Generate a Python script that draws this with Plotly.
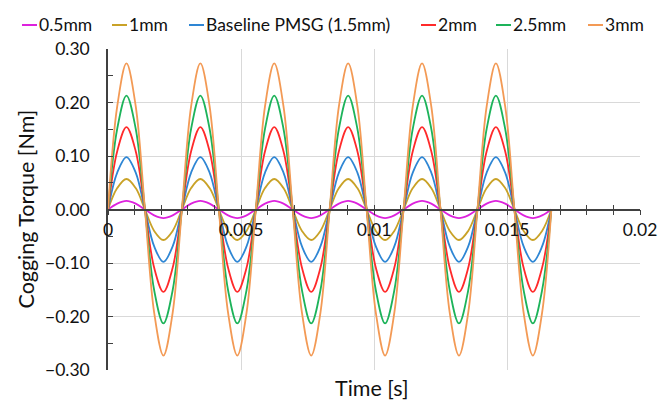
import plotly.graph_objects as go

time_s = [0, 0.000347, 0.000694, 0.001042, 0.001389, 0.001736, 0.002083, 0.002431,
          0.002778, 0.003125, 0.003472, 0.003819, 0.004167, 0.004514, 0.004861, 0.005208,
          0.005556, 0.005903, 0.006250, 0.006597, 0.006944, 0.007292, 0.007639, 0.007986,
          0.008333, 0.008681, 0.009028, 0.009375, 0.009722, 0.010069, 0.010417, 0.010764,
          0.011111, 0.011458, 0.011806, 0.012153, 0.012500, 0.012847, 0.013194, 0.013542,
          0.013889, 0.014236, 0.014583, 0.014931, 0.015278, 0.015625, 0.015972, 0.016319,
          0.016667]

t_05 = [0, 0.011, 0.016, 0.011, 0, -0.011, -0.016, -0.011] * 6 + [0]
t_10 = [0, 0.040, 0.057, 0.040, 0, -0.040, -0.057, -0.040] * 6 + [0]
t_15 = [0, 0.069, 0.098, 0.069, 0, -0.069, -0.098, -0.069] * 6 + [0]
t_20 = [0, 0.109, 0.154, 0.109, 0, -0.109, -0.154, -0.109] * 6 + [0]
t_25 = [0, 0.151, 0.213, 0.151, 0, -0.151, -0.213, -0.151] * 6 + [0]
t_30 = [0, 0.193, 0.273, 0.193, 0, -0.193, -0.273, -0.193] * 6 + [0]

names = ["0.5mm", "1mm", "Baseline PMSG (1.5mm)", "2mm", "2.5mm", "3mm"]
series = [t_05, t_10, t_15, t_20, t_25, t_30]
colors = ["#DD22DD", "#C9A227", "#2E86D4", "#FF2A2A", "#1DB35A", "#F39A55"]

# legend layout (pixels): start of each legend line
legend_x = [22, 112, 189, 421, 496, 588]
LEG_Y = 25
W, H = 658, 401

FONT = "Lato, Open Sans, sans-serif"

fig = go.Figure()
for n, s, c in zip(names, series, colors):
    fig.add_trace(go.Scatter(x=time_s, y=s, name=n, mode="lines", showlegend=False,
                             line=dict(color=c, width=1.8, shape="spline", smoothing=1.0)))

# invisible helper trace for an overlaid axis (cross ticks)
fig.add_trace(go.Scatter(x=[None], y=[None], xaxis="x2", showlegend=False, hoverinfo="skip"))

shapes = []
annotations = []
for n, c, lx in zip(names, colors, legend_x):
    shapes.append(dict(type="line", xref="paper", yref="paper",
                       x0=(lx - 108) / 532, x1=(lx + 15 - 108) / 532,
                       y0=(H - 31 - LEG_Y) / 321, y1=(H - 31 - LEG_Y) / 321,
                       line=dict(color=c, width=2)))
    annotations.append(dict(text=n, xref="paper", yref="paper",
                            x=(lx + 15 - 108) / 532, y=(H - 31 - LEG_Y) / 321,
                            xanchor="left", yanchor="middle", showarrow=False,
                            font=dict(size=17.5)))

annotations += [
    dict(text="Cogging Torque [Nm]", xref="paper", yref="paper", x=(25 - 108) / 532, y=0.5,
         textangle=-90, showarrow=False, font=dict(size=21.5), xanchor="center", yanchor="middle"),
    dict(text="Time [s]", xref="paper", yref="paper", x=(372 - 108) / 532, y=(31 - 13) / -321,
         showarrow=False, font=dict(size=21.5), xanchor="center", yanchor="middle"),
]

fig.update_layout(
    width=W, height=H,
    margin=dict(l=108, r=18, t=49, b=31),
    paper_bgcolor="white", plot_bgcolor="white",
    font=dict(family=FONT, color="#111111", size=16),
    showlegend=False,
    xaxis=dict(range=[0, 0.02], dtick=0.005, tickformat="~g",
               showgrid=True, gridcolor="#D9D9D9", gridwidth=1,
               zeroline=False, showline=True, linecolor="#404040", linewidth=1.5,
               anchor="free", position=0.5, automargin=False,
               ticks="outside", ticklen=5, tickcolor="#404040", tickwidth=1.3,
               minor=dict(dtick=0.001, ticks="outside", ticklen=5, tickcolor="#404040",
                          tickwidth=1.3, showgrid=False),
               tickfont=dict(size=17.5)),
    xaxis2=dict(range=[0, 0.02], overlaying="x", anchor="free", position=0.5,
                showgrid=False, zeroline=False, showline=False, showticklabels=False,
                automargin=False,
                ticks="inside", ticklen=5, tickcolor="#404040", tickwidth=1.3, dtick=0.001),
    yaxis=dict(range=[-0.3, 0.3], dtick=0.1, tickformat=".2f",
               showgrid=True, gridcolor="#D9D9D9", gridwidth=1,
               zeroline=False, showline=True, linecolor="#404040", linewidth=1.5,
               automargin=False,
               ticks="inside", ticklen=5, tickcolor="#404040", tickwidth=1.3,
               minor=dict(dtick=0.05, ticks="inside", ticklen=5, tickcolor="#404040",
                          tickwidth=1.3, showgrid=False),
               ticklabelstandoff=13, tickfont=dict(size=17.5)),
    shapes=shapes,
    annotations=annotations,
)

fig.write_html("out.html")
